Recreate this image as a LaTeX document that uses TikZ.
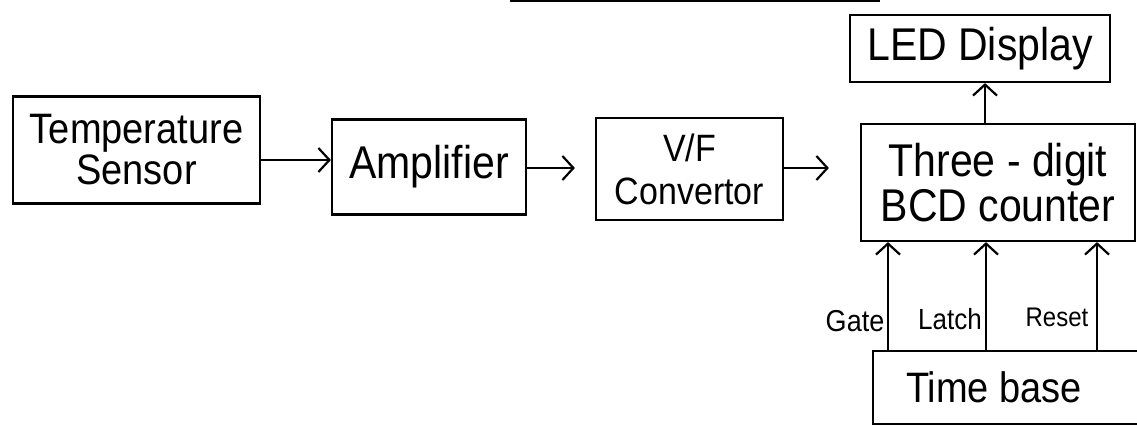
\documentclass[tikz,border=0pt]{standalone}
\usepackage{graphicx}
\usepackage{fontspec}
\setmainfont{Liberation Sans}
\usetikzlibrary{arrows.meta,calc}
\newcommand{\tallx}[1]{\scalebox{1}[1.12]{#1}}
\begin{document}
\begin{tikzpicture}[x=1pt,y=-1pt,
  ink/.style={line width=2.2pt, draw=black},
  blk/.style={ink, rectangle, inner sep=0pt, align=center},
  arr/.style={ink, -{Straight Barb[length=11pt,width=24pt,line width=2.2pt]}},
  lbl/.style={inner sep=0pt}]
\useasboundingbox (0,0) rectangle (1137,427);
% remnant stroke at the top edge of the page
\draw[line width=3pt] (510,1) -- (880,1);
% blocks
\node[blk, minimum width=247pt, minimum height=107pt, font={\fontsize{38}{41}\selectfont}] (temp) at (136.5,150) {\tallx{Temperature}\\\tallx{Sensor}};
\node[blk, minimum width=194pt, minimum height=95pt, font={\fontsize{41}{44}\selectfont}] (amp) at (429,167) {\tallx{Amplifier}};
\node[blk, minimum width=187pt, minimum height=102pt, font={\fontsize{34}{43}\selectfont}] (vf) at (689.5,169) {\tallx{V/F}\\\tallx{Convertor}};
\node[blk, minimum width=274pt, minimum height=117pt, font={\fontsize{41}{45}\selectfont}] (cnt) at (998,182.5) {\tallx{Three - digit}\\\tallx{BCD counter}};
\node[blk, minimum width=260pt, minimum height=67pt, font={\fontsize{41}{44}\selectfont}] (led) at (980,48.5) {\tallx{LED Display}};
\node[inner sep=0pt, minimum width=242pt, minimum height=73pt, font={\fontsize{38}{40}\selectfont}] (tb) at (994,387.5) {\tallx{Time base}};
\draw[ink] ($(tb.north east)+(30,0)$) -- (tb.north west) -- (tb.south west) -- ($(tb.south east)+(30,0)$);
% connectors
\coordinate (ya) at (0,160);
\coordinate (yb) at (0,168);
\draw[arr] (temp.east |- ya) -- (amp.west |- ya);
\draw[arr, shorten >=20pt] (amp.east |- yb) -- (vf.west |- yb);
\draw[arr, shorten >=31pt] (vf.east |- yb) -- (cnt.west |- yb);
\coordinate (xl) at (985,0);
\draw[arr] (cnt.north -| xl) -- (led.south -| xl);
\coordinate (xg) at (888,0);
\coordinate (xt) at (986,0);
\coordinate (xr) at (1097,0);
\draw[arr] (tb.north -| xg) -- (cnt.south -| xg);
\draw[arr] (tb.north -| xt) -- (cnt.south -| xt);
\draw[arr] (tb.north -| xr) -- (cnt.south -| xr);
% signal labels
\node[lbl, font={\fontsize{27}{29}\selectfont}] (gate) at (855,321) {\tallx{Gate}};
\node[lbl, font={\fontsize{26}{28}\selectfont}] (latch) at (950,319) {\tallx{Latch}};
\node[lbl, font={\fontsize{24}{26}\selectfont}] (reset) at (1057,317) {\tallx{Reset}};
\end{tikzpicture}
\end{document}
